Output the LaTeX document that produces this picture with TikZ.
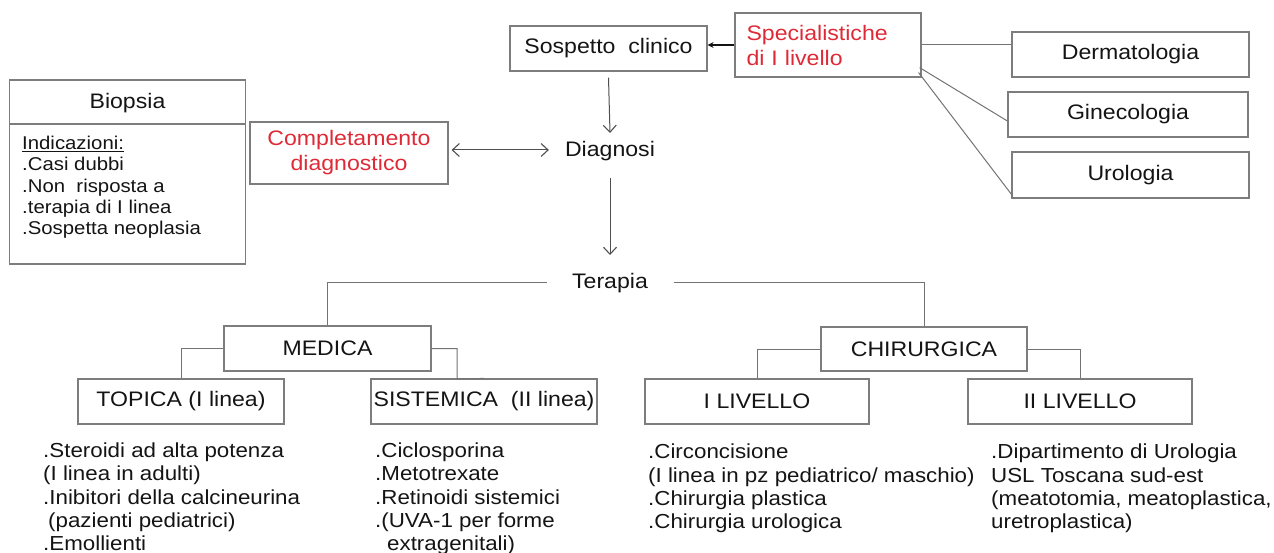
\documentclass[tikz,border=0pt]{standalone}
\usepackage{fontspec}
\setmainfont{Liberation Sans}[FakeStretch=1.1]
\usetikzlibrary{arrows.meta,calc}
\definecolor{boxgray}{RGB}{125,125,125}
\definecolor{linegray}{RGB}{115,115,115}
\definecolor{txt}{RGB}{20,20,20}
\definecolor{redtxt}{RGB}{222,42,54}
\begin{document}
\begin{tikzpicture}[x=1pt,y=-1pt,
  hfont/.style={font=\fontsize{21}{25}\selectfont},
  box/.style={draw=boxgray, line width=1.2pt, inner sep=0pt, text=txt, hfont},
  conn/.style={draw=linegray, line width=1pt},
  barb/.style={Straight Barb[length=7pt,width=13pt,line width=1.1pt]},
  arr/.style={draw=txt!75, line width=1pt, -{Straight Barb[length=7pt,width=13pt,line width=1.1pt]}},
  darr/.style={draw=txt!75, line width=1pt, {Straight Barb[length=7pt,width=13pt,line width=1.1pt]}-{Straight Barb[length=7pt,width=13pt,line width=1.1pt]}},
  sarr/.style={draw=txt, line width=1.3pt, -{Stealth[length=6pt,width=6pt]}},
  lst/.style={align=left, anchor=north west, inner sep=0pt, text=txt, font=\fontsize{20.3}{23.3}\selectfont},
  blst/.style={align=left, anchor=north west, inner sep=0pt, text=txt, font=\fontsize{18.5}{21.3}\selectfont},
  lbl/.style={inner sep=0pt, text=txt, hfont},
]
\useasboundingbox (0,0) rectangle (1274,553);

% top row
\node[box, minimum width=197pt, minimum height=45pt] (sosp) at (608.5,48.5) {Sospetto\ \ clinico};
\node[box, minimum width=186pt, minimum height=64pt, text width=163pt, align=left, text=redtxt] (spec) at (828,45) {Specialistiche\\di I livello};
\node[box, minimum width=237pt, minimum height=45pt] (derm) at (1130.5,54.5) {Dermatologia};
\node[box, minimum width=240pt, minimum height=45pt] (gine) at (1128,114.5) {Ginecologia};
\node[box, minimum width=237pt, minimum height=46pt] (uro) at (1130.5,175) {Urologia};

\draw[sarr] (spec.west) -- (spec.west -| sosp.east);
\draw[conn] (spec.east) -- (spec.east -| derm.west);
\draw[conn] ([shift={(-2,-10)}]spec.south east) -- ([shift={(0,6.5)}]gine.west);
\draw[conn] ([shift={(-3,-5)}]spec.south east) -- ([shift={(1,-3)}]uro.south west);

% diagnosis
\node[lbl] (diag) at (610,151) {Diagnosi};
\node[box, minimum width=198pt, minimum height=62pt, align=center, text=redtxt] (comp) at (349,153) {Completamento\\diagnostico};
\draw[arr] ([yshift=-6pt]sosp.south) -- ([yshift=8pt]diag.north);
\draw[darr] ($(comp.east)+(3,-3)$) -- ($(comp.east -| diag.west)+(-16,-3)$);

% biopsia
\node[box, minimum width=236pt, minimum height=184pt] (biop) at (127.5,172) {};
\draw[draw=boxgray, line width=1.2pt] (biop.west |- 0,124) -- (biop.east |- 0,124);
\node[lbl] (biopt) at (127.5,103) {Biopsia};
\node[blst] (biopl) at (22,136) {\underline{Indicazioni:}\\.Casi dubbi\\.Non\ \ risposta a\\.terapia di I linea\\.Sospetta neoplasia};

% terapia
\node[lbl] (ter) at (610,283) {Terapia};
\draw[arr] ([yshift=-17pt]diag.south) -- ([yshift=18pt]ter.north);

\node[box, minimum width=207pt, minimum height=45pt] (med) at (327.5,348.5) {MEDICA};
\node[box, minimum width=206pt, minimum height=44pt] (chir) at (924,349) {CHIRURGICA};
\draw[conn] ([xshift=-25pt]ter.west) -| (med.north);
\draw[conn] ([xshift=26pt]ter.east) -| (chir.north);

\node[box, minimum width=206pt, minimum height=45pt] (top) at (181,401.5) {TOPICA (I linea)};
\node[box, minimum width=226pt, minimum height=45pt] (sist) at (484,401.5) {SISTEMICA\ \ (II linea)};
\node[box, minimum width=224pt, minimum height=45pt] (liv1) at (757,401.5) {I LIVELLO};
\node[box, minimum width=224pt, minimum height=45pt] (liv2) at (1080,401.5) {II LIVELLO};

\coordinate (sj) at (457,379);
\draw[conn] (med.west) -| (top.north);
\draw[conn] (med.east) -| (sj) -- (sist.north);
\draw[conn] (chir.west) -| (liv1.north);
\draw[conn] (chir.east) -| (liv2.north);

% lists
\node[lst] (topl) at (43,442.5) {.Steroidi ad alta potenza\\(I linea in adulti)\\.Inibitori della calcineurina\\\hspace{5pt}(pazienti pediatrici)\\.Emollienti};
\node[lst] (sistl) at (375,442.5) {.Ciclosporina\\.Metotrexate\\.Retinoidi sistemici\\.(UVA-1 per forme\\\hspace{12pt}extragenitali)};
\node[lst] (liv1l) at (648,444) {.Circoncisione\\(I linea in pz pediatrico/ maschio)\\.Chirurgia plastica\\.Chirurgia urologica};
\node[lst] (liv2l) at (991,444) {.Dipartimento di Urologia\\USL Toscana sud-est\\(meatotomia, meatoplastica,\\uretroplastica)};
\end{tikzpicture}
\end{document}
